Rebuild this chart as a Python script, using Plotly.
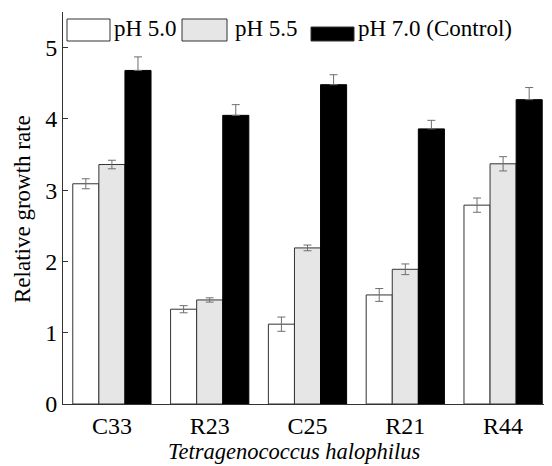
import plotly.graph_objects as go

categories = ["C33", "R23", "C25", "R21", "R44"]
series_names = ["pH 5.0", "pH 5.5", "pH 7.0 (Control)"]
ph50 = [3.09, 1.33, 1.12, 1.53, 2.79]
ph50_err = [0.07, 0.05, 0.10, 0.09, 0.10]
ph55 = [3.36, 1.46, 2.19, 1.89, 3.37]
ph55_err = [0.06, 0.03, 0.04, 0.075, 0.10]
ph70 = [4.68, 4.05, 4.48, 3.86, 4.27]
ph70_err = [0.19, 0.15, 0.14, 0.12, 0.17]
y_ticks = [0, 1, 2, 3, 4, 5, 5.5]
y_ticktext = ["0", "1", "2", "3", "4", "5", ""]
x_title = "<i>Tetragenococcus halophilus</i>"
y_title = "Relative growth rate"

FONT = "Liberation Serif, Times New Roman, serif"
fills = ["#ffffff", "#e6e6e6", "#000000"]
lines = ["#333333", "#333333", "#000000"]
vals = [ph50, ph55, ph70]
errs = [ph50_err, ph55_err, ph70_err]

fig = go.Figure()
for i in range(3):
    ey = dict(type="data", array=errs[i], color="#6e6e6e", thickness=1, width=4, visible=True)
    if i == 2:
        ey["symmetric"] = False
        ey["arrayminus"] = [0] * len(errs[i])
    fig.add_trace(go.Bar(
        x=categories, y=vals[i], name=series_names[i],
        marker=dict(color=fills[i], line=dict(color=lines[i], width=1)),
        error_y=ey, showlegend=False,
    ))

# figure is offset by the page's 8px body margin
OFF = 8
W, H = 544, 458
ML, MT, MB, MR = 55, 4, 62, 0
PW, PH = W - ML - MR, H - MT - MB
def px(x):  # reference pixel -> paper (plot-area) fraction
    return (x - OFF - ML) / PW
def py(y):
    return 1 - (y - OFF - MT) / PH

# custom legend (wide swatches like the reference)
swatches = [(67, 110, 19, 41), (182, 227, 19, 41), (311, 354, 27, 41)]
text_x = [112, 233, 356]
for i, (x0, x1, y0, y1) in enumerate(swatches):
    fig.add_shape(type="rect", xref="paper", yref="paper",
                  x0=px(x0), x1=px(x1), y0=py(y1), y1=py(y0),
                  fillcolor=fills[i], line=dict(color="#333333", width=1))
    fig.add_annotation(xref="paper", yref="paper", x=px(text_x[i]), y=py(28),
                       text=series_names[i], showarrow=False, xanchor="left",
                       yanchor="middle", font=dict(family=FONT, size=23, color="black"))

fig.add_annotation(xref="paper", yref="paper", x=px(294), y=py(452),
                   text=x_title, showarrow=False, xanchor="center", yanchor="middle",
                   font=dict(family=FONT, size=22.5, color="black"))
fig.add_annotation(xref="paper", yref="paper", x=px(22), y=py(209),
                   text=y_title, showarrow=False, textangle=-90,
                   xanchor="center", yanchor="middle",
                   font=dict(family=FONT, size=23, color="black"))

fig.update_layout(
    width=W, height=H,
    margin=dict(l=ML, r=MR, t=MT, b=MB),
    paper_bgcolor="white", plot_bgcolor="white",
    barmode="group", bargap=0.2, bargroupgap=0,
    font=dict(family=FONT, size=24, color="black"),
    xaxis=dict(
        range=[-0.5, 4.5], showline=True, linecolor="#333333", linewidth=1,
        ticks="", showgrid=False, zeroline=False,
        tickfont=dict(family=FONT, size=24),
    ),
    yaxis=dict(
        range=[0, 5.5], showline=True, linecolor="#333333", linewidth=1,
        tickvals=y_ticks, ticktext=y_ticktext, ticks="inside", ticklen=5,
        tickcolor="#333333", showgrid=False, zeroline=False,
        tickfont=dict(family=FONT, size=24),
    ),
)

fig.write_html("out.html")
